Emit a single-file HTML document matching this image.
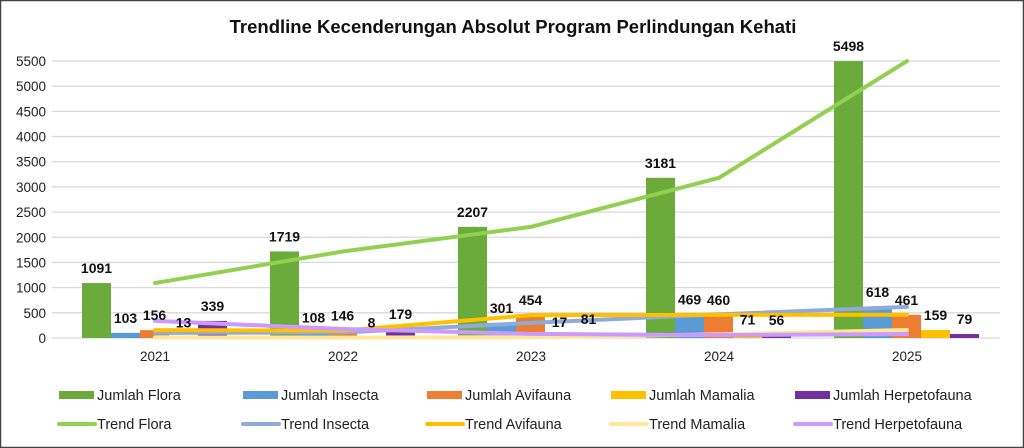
<!DOCTYPE html>
<html><head><meta charset="utf-8"><style>
body{margin:0;background:#fff}
svg{display:block;font-family:"Liberation Sans",sans-serif}
</style></head><body>
<svg id="chart" width="1024" height="448" viewBox="0 0 1024 448">
<rect x="0.5" y="0.5" width="1023" height="447" fill="#fff" stroke="#444" stroke-width="1.5"/>
<text x="513" y="33" text-anchor="middle" font-size="18.5" font-weight="bold" fill="#111">Trendline Kecenderungan Absolut Program Perlindungan Kehati</text>
<g id="grid"></g><g id="bars"></g><g id="lines"></g><g id="labels"></g><g id="legend"></g>
</svg>
<script>
const categories=["2021","2022","2023","2024","2025"];
const flora=[1091,1719,2207,3181,5498];
const insecta=[103,108,301,469,618];
const avifauna=[156,146,454,460,461];
const mamalia=[13,8,17,71,159];
const herpetofauna=[339,179,81,56,79];
const yTicks=[0,500,1000,1500,2000,2500,3000,3500,4000,4500,5000,5500];
const seriesNames=["Flora","Insecta","Avifauna","Mamalia","Herpetofauna"];
const barColors=["#6aab3c","#5b9bd5","#ed7d31","#ffc000","#7030a0"];
const lineColors=["#92d050","#8faadc","#ffc000","#ffe699","#cc99ff"];
const allData=[flora,insecta,avifauna,mamalia,herpetofauna];
const NS="http://www.w3.org/2000/svg";
const y0=338,yTop=61,yMax=5500,xL=52,xR=1000,step=188,firstC=155;
const ys=v=>y0-(v/yMax)*(y0-yTop);
const xc=i=>firstC+i*step;
const bw=29;
function mk(tag,attrs,parent){const e=document.createElementNS(NS,tag);for(const k in attrs)e.setAttribute(k,attrs[k]);parent.appendChild(e);return e;}
const grid=document.getElementById('grid');
yTicks.forEach(t=>{
 const l=mk('line',{x1:xL,x2:xR,y1:ys(t),y2:ys(t),stroke:'#d9d9d9','stroke-width':1.3},grid);
 
 
 const tx=mk('text',{x:46,y:ys(t)+5,'text-anchor':'end','font-size':13.5,fill:'#222'},grid);
 tx.textContent=t;
 
 
});
categories.forEach((c,i)=>{
 const tx=mk('text',{x:xc(i),y:361,'text-anchor':'middle','font-size':13.5,fill:'#222'},grid);
 tx.textContent=c;
 
 
});
const bars=document.getElementById('bars'),labels=document.getElementById('labels');
allData.forEach((arr,s)=>{
 arr.forEach((v,i)=>{
  const x=xc(i)-73+s*bw;
  const r=mk('rect',{x:x,y:ys(v),width:bw,height:y0-ys(v),fill:barColors[s]},bars);
  
  
  const tx=mk('text',{x:x+bw/2,y:ys(v)-10,'text-anchor':'middle','font-size':14,'font-weight':'bold',fill:'#111'},labels);
  tx.textContent=v;
  
  
 });
});
const lines=document.getElementById('lines');
allData.forEach((arr,s)=>{
 const pts=arr.map((v,i)=>xc(i)+','+ys(v)).join(' ');
 const p=mk('polyline',{points:pts,fill:'none',stroke:lineColors[s],'stroke-width':4,'stroke-linecap':'round','stroke-linejoin':'round'},lines);
 
 
});
const leg=document.getElementById('legend');
seriesNames.forEach((n,s)=>{
 const x=59+s*184;
 const r=mk('rect',{x:x,y:391,width:35,height:8,fill:barColors[s]},leg);
 
 
 const t=mk('text',{x:x+38,y:400,'font-size':14.5,fill:'#222'},leg);
 t.textContent='Jumlah '+n;
 
 
 const l=mk('line',{x1:x,x2:x+36,y1:424,y2:424,stroke:lineColors[s],'stroke-width':4,'stroke-linecap':'round'},leg);
 
 
 const t2=mk('text',{x:x+38,y:429,'font-size':14.5,fill:'#222'},leg);
 t2.textContent='Trend '+n;
 
 
});
</script>
</body></html>
